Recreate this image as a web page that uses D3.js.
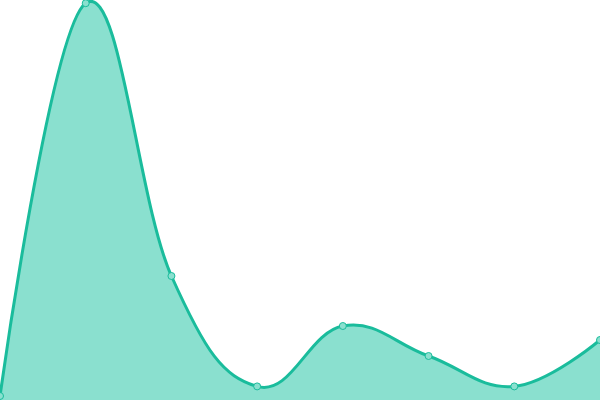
<!DOCTYPE html>
<html>
<head>
<meta charset="utf-8">
<script src="https://cdn.jsdelivr.net/npm/d3@7"></script>
<style>
  html, body { margin: 0; padding: 0; background: #fff; }
</style>
</head>
<body>
<div class="chart"></div>
<script>
var labels = ['A', 'B', 'C', 'D', 'E', 'F', 'G', 'H'];
var values = [1, 99.2, 31, 3.4, 18.5, 11, 3.4, 15];

var width = 600,
    height = 400;

var svg = d3.select('.chart').append('svg')
  .attr('width', width)
  .attr('height', height)
  .style('display', 'block');

var data = labels.map(function(k, i) { return { k: k, v: values[i] }; });

var x = d3.scalePoint().domain(labels).range([0, width]);
var y = d3.scaleLinear().domain([0, 100]).range([height, 0]);

var curve = d3.curveCardinal.tension(-0.2);

var area = d3.area()
  .x(function(d) { return x(d.k); })
  .y0(height)
  .y1(function(d) { return y(d.v); })
  .curve(curve);

var line = d3.line()
  .x(function(d) { return x(d.k); })
  .y(function(d) { return y(d.v); })
  .curve(curve);

svg.append('path').datum(data)
  .attr('d', area)
  .attr('fill', '#8ae0cf');

svg.append('path').datum(data)
  .attr('d', line)
  .attr('fill', 'none')
  .attr('stroke', '#1abc9c')
  .attr('stroke-width', 3);

svg.selectAll('.dot').data(data)
  .enter().append('circle')
  .attr('class', 'dot')
  .attr('cx', function(d) { return x(d.k); })
  .attr('cy', function(d) { return y(d.v); })
  .attr('r', 3.5)
  .attr('fill', '#8ae0cf')
  .attr('stroke', '#1abc9c')
  .attr('stroke-width', 1);
</script>
</body>
</html>
